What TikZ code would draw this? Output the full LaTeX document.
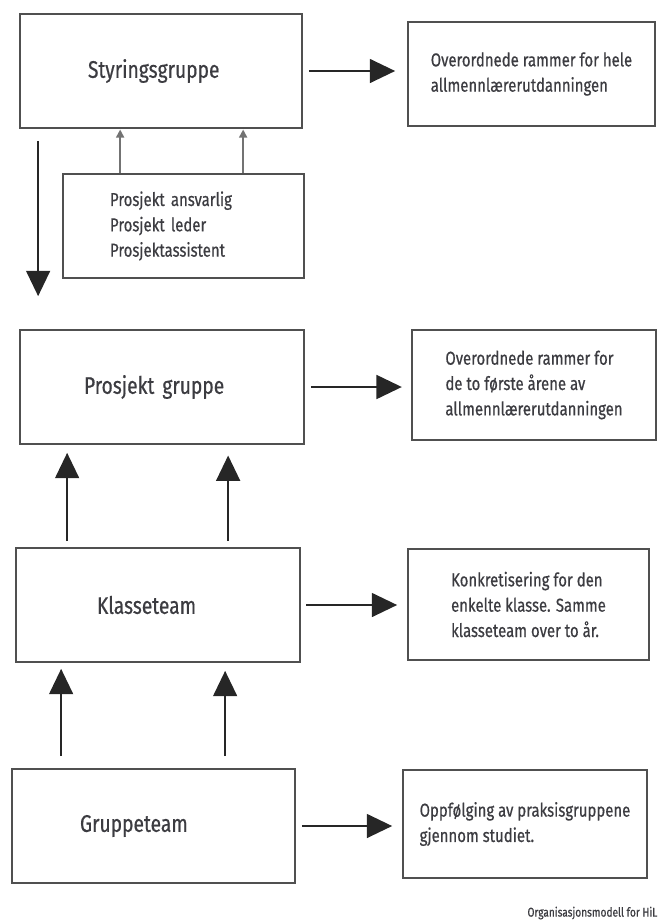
\documentclass[tikz,border=0pt]{standalone}
\usepackage{fontspec}
\setmainfont{Fira Sans}[FakeStretch=0.8,FakeBold=0.6]
\usetikzlibrary{arrows.meta,positioning}
\definecolor{inkgray}{RGB}{60,60,65}
\definecolor{rulegray}{RGB}{80,80,80}

\begin{document}
\begin{tikzpicture}[
    x=0.75pt, y=-0.75pt,
    unit/.style={draw=rulegray,line width=1.3pt,inner sep=0pt,minimum height=85.5pt,align=left,
        text=inkgray,font=\fontsize{18}{22}\selectfont},
    note/.style={draw=rulegray,line width=1.3pt,inner sep=0pt,align=left,
        text=inkgray,font=\fontsize{14}{19}\selectfont},
    flow/.style={-{Triangle[length=19pt,width=18pt]},line width=1.2pt,black!85},
    feed/.style={-{Triangle[length=6pt,width=6pt]},line width=1.2pt,gray!90!black},
]
\useasboundingbox (0,0) rectangle (666,922);

%----------------------------------
% Left column
%----------------------------------

\node[unit,minimum width=211.5pt,inner xsep=51pt,text width=109.5pt] (sg) at (161,71) {Styringsgruppe};
\node[note,minimum width=180.75pt,minimum height=78pt,inner xsep=35.25pt,text width=110.25pt] (pr) at (183.5,226)
    {Prosjekt ansvarlig\\Prosjekt leder\\Prosjektassistent};
\node[unit,minimum width=213pt,inner xsep=48pt,text width=117pt] (pg) at (162,387) {Prosjekt gruppe};
\node[unit,minimum width=213pt,inner xsep=60.75pt,text width=91.5pt] (kt) at (158,605) {Klasseteam};
\node[unit,minimum width=212.25pt,inner xsep=51pt,text width=110.25pt] (gt) at (153.5,826) {Gruppeteam};

%----------------------------------
% Right column
%----------------------------------

\node[note,minimum width=185.25pt,minimum height=78pt] (r1) at (531.5,74)
    {Overordnede rammer for hele\\allmennlærerutdanningen};
\node[note,minimum width=183pt,minimum height=82.5pt] (r2) at (534,385)
    {Overordnede rammer for\\de to første årene av\\allmennlærerutdanningen};
\node[note,minimum width=180.75pt,minimum height=83.25pt] (r3) at (528.5,604.5)
    {Konkretisering for den\\enkelte klasse. Samme\\klasseteam over to år.};
\node[note,minimum width=183pt,minimum height=81pt] (r4) at (525,824)
    {Oppfølging av praksisgruppene\\gjennom studiet.};

\node[anchor=east,text=inkgray,font=\fontsize{9.5}{11}\selectfont] (cap) at (662,913)
    {Organisasjonsmodell for HiL};

%----------------------------------
% Arrows
%----------------------------------

\draw[flow,shorten <=4.5pt,shorten >=9pt] (sg.east) -- (sg.east -| r1.west);
\draw[flow,shorten <=4.5pt,shorten >=7pt] (pg.east) -- (pg.east -| r2.west);
\draw[flow,shorten <=4pt,shorten >=7.5pt] (kt.east) -- (kt.east -| r3.west);
\draw[flow,shorten <=4.5pt,shorten >=7.5pt] (gt.east) -- (gt.east -| r4.west);

\draw[feed,shorten >=0.5pt] ([xshift=43.5pt]pr.north west) -- ([xshift=43.5pt]pr.north west |- sg.south);
\draw[feed,shorten >=0.5pt] ([xshift=135.75pt]pr.north west) -- ([xshift=135.75pt]pr.north west |- sg.south);

\draw[flow,shorten <=9pt,shorten >=24.75pt] ([xshift=14.25pt]sg.south west) -- ([xshift=14.25pt]sg.south west |- pg.north);

\draw[flow,shorten <=4.5pt,shorten >=6pt] ([xshift=39pt]kt.north west) -- ([xshift=39pt]kt.north west |- pg.south);
\draw[flow,shorten <=4.5pt,shorten >=8pt] ([xshift=159.75pt]kt.north west) -- ([xshift=159.75pt]kt.north west |- pg.south);

\draw[flow,shorten <=9pt,shorten >=4.5pt] ([xshift=37.5pt]gt.north west) -- ([xshift=37.5pt]gt.north west |- kt.south);
\draw[flow,shorten <=9pt,shorten >=6pt] ([xshift=160.5pt]gt.north west) -- ([xshift=160.5pt]gt.north west |- kt.south);

\end{tikzpicture}
\end{document}
